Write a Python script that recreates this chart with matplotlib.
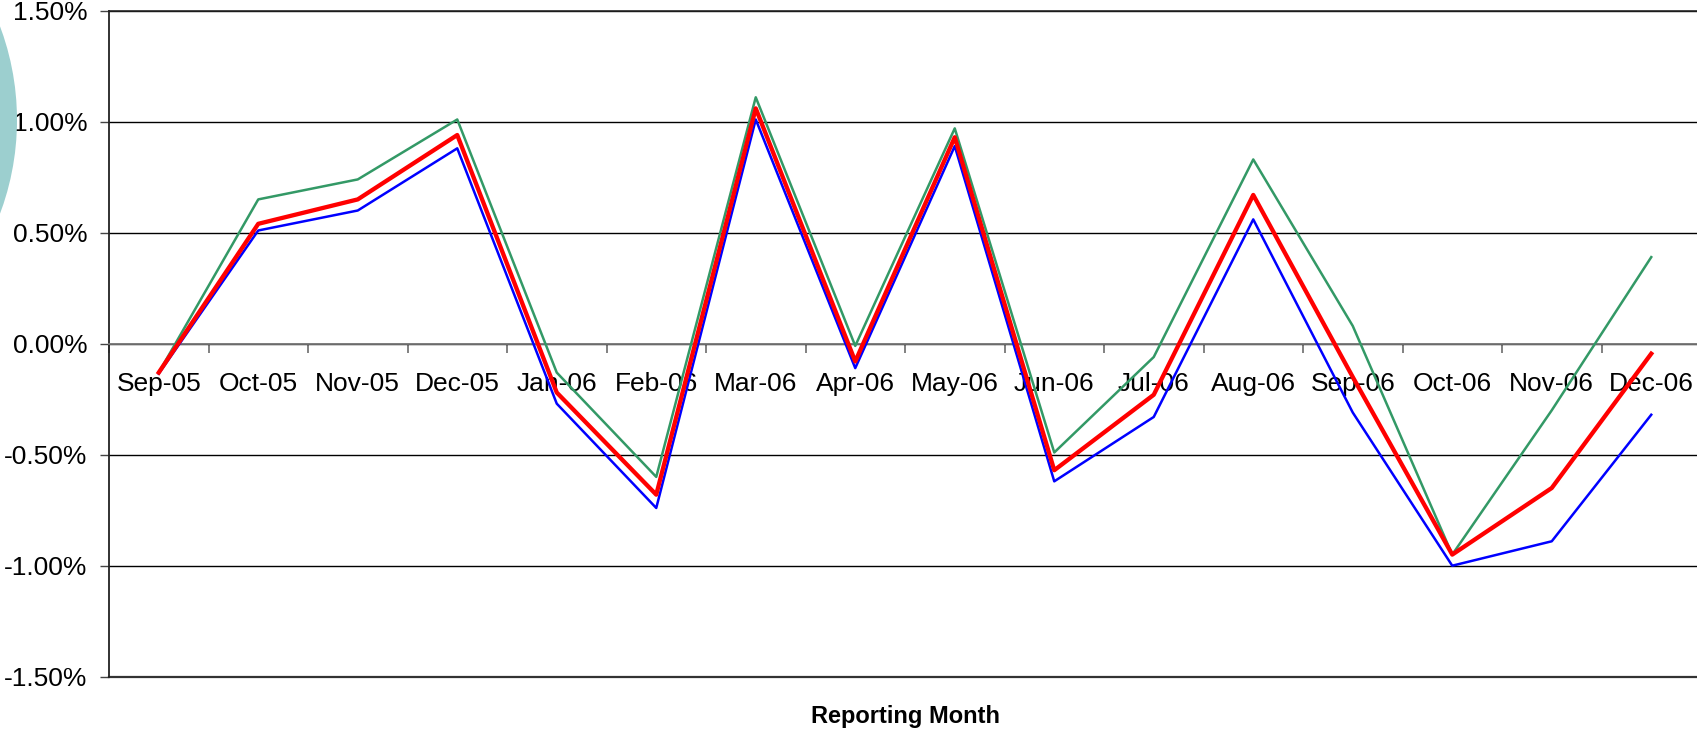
import matplotlib
matplotlib.use('Agg')
import matplotlib.pyplot as plt
from matplotlib.patches import Ellipse
from matplotlib.ticker import FuncFormatter, FixedLocator, NullFormatter
import numpy as np

plt.rcParams['font.family'] = ['Liberation Sans', 'DejaVu Sans']

#=====================
#  Data (percent)
#=====================
months = ['Sep-05', 'Oct-05', 'Nov-05', 'Dec-05', 'Jan-06', 'Feb-06',
          'Mar-06', 'Apr-06', 'May-06', 'Jun-06', 'Jul-06', 'Aug-06',
          'Sep-06', 'Oct-06', 'Nov-06', 'Dec-06']

green_vals = [-0.13, 0.65, 0.74, 1.01, -0.13, -0.60, 1.11, -0.01,
              0.97, -0.49, -0.06, 0.83, 0.08, -0.95, -0.30, 0.39]
red_vals = [-0.13, 0.54, 0.65, 0.94, -0.22, -0.68, 1.06, -0.08,
            0.93, -0.57, -0.23, 0.67, -0.15, -0.95, -0.65, -0.045]
blue_vals = [-0.135, 0.51, 0.60, 0.88, -0.27, -0.74, 1.01, -0.11,
             0.89, -0.62, -0.33, 0.56, -0.31, -1.00, -0.89, -0.32]

y_ticks = [-1.5, -1.0, -0.5, 0.0, 0.5, 1.0, 1.5]

#=====================
#  Figure
#=====================
W, H = 1697, 735
fig = plt.figure(figsize=(W / 100, H / 100), dpi=100)

# decorative circle peeking from the left edge
circ = Ellipse((-250 / W, 1 - 120 / H), 2 * 267 / W, 2 * 267 / H,
               transform=fig.transFigure, facecolor='#9CCFCF',
               edgecolor='none', zorder=0)
fig.patches.append(circ)

# axes run slightly past the right edge like the original
ax = fig.add_axes([109 / W, 1 - 676.7 / H, 1592 / W, 666 / H])
ax.patch.set_alpha(0)

x = np.arange(len(months))
ax.plot(x, green_vals, color='#339966', lw=1.8, zorder=3)
ax.plot(x, blue_vals, color='#0000FF', lw=1.8, zorder=4)
ax.plot(x, red_vals, color='#FF0000', lw=3.1, zorder=5)

ax.set_xlim(-0.5, len(months) - 0.5)
ax.set_ylim(-1.5, 1.5)

# y axis
ax.set_yticks(y_ticks)
ax.yaxis.set_major_formatter(FuncFormatter(lambda v, p: '%.2f%%' % v))
ax.yaxis.grid(True, color='black', lw=1.0)
ax.set_axisbelow(True)
ax.axhline(-1.5, color='#333333', lw=1.6, clip_on=False, zorder=2)
ax.axhline(1.5, color='#222222', lw=1.2, clip_on=False, zorder=2)
ax.tick_params(axis='y', direction='out', length=6.5, width=1,
               labelsize=19, pad=9, color='#444444')

# x axis crosses at zero, ticks between categories
ax.spines['bottom'].set_position(('data', 0))
ax.spines['bottom'].set_color('#777777')
ax.spines['bottom'].set_linewidth(1.3)
ax.spines['top'].set_visible(False)
ax.spines['right'].set_visible(False)
ax.spines['left'].set_color('#222222')
ax.spines['left'].set_linewidth(1.3)

ax.xaxis.set_major_locator(FixedLocator(x))
ax.set_xticklabels(months)
ax.xaxis.set_minor_locator(FixedLocator(np.arange(-0.5, len(months), 1.0)))
ax.xaxis.set_minor_formatter(NullFormatter())
ax.tick_params(axis='x', which='major', length=0, labelsize=19, pad=20.5)
ax.tick_params(axis='x', which='minor', direction='out', length=6.5,
               width=1.3, color='#777777')

ax.set_xlabel('Reporting Month', fontsize=17, fontweight='bold')
ax.xaxis.set_label_coords(0.5, -0.0605)
ax.xaxis.label.set_va('center')

fig.savefig('out.png', dpi=100)
